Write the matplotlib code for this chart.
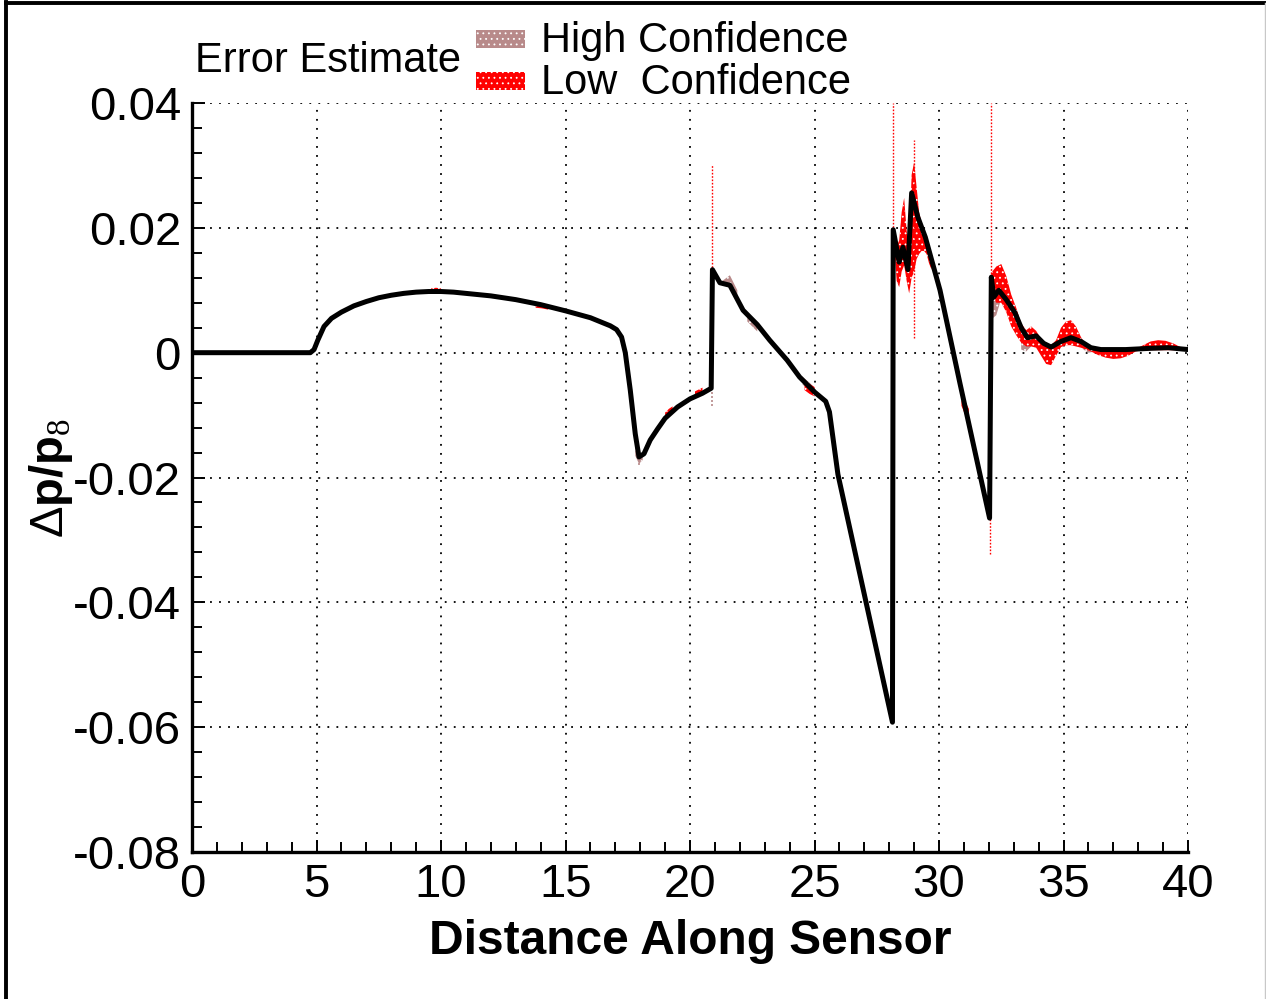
"""Pressure signature along the sensor with error-estimate bands."""
import numpy as np
import matplotlib
matplotlib.use("Agg")
import matplotlib.pyplot as plt
from matplotlib.lines import Line2D
from matplotlib.patches import Rectangle
from matplotlib.ticker import MultipleLocator, FuncFormatter

plt.rcParams["font.family"] = ["Liberation Sans", "DejaVu Sans"]
plt.rcParams["axes.unicode_minus"] = False
plt.rcParams["hatch.linewidth"] = 0.6
plt.rcParams["mathtext.fontset"] = "custom"
plt.rcParams["mathtext.rm"] = "Liberation Serif"
plt.rcParams["mathtext.sf"] = "Liberation Sans"
plt.rcParams["mathtext.bf"] = "Liberation Sans:bold"

# --- data: mean signature -------------------------------------------------
curve_x = [0.0, 4.75, 4.9, 5.05, 5.3, 5.6, 6.0, 6.5, 7.0, 7.5, 8.0, 8.5, 9.0,
           9.5, 10.0, 10.5, 11.0, 12.0, 13.0, 14.0, 15.0, 16.0, 16.8, 17.05,
           17.25, 17.4, 17.6, 17.8, 17.95, 18.15, 18.4, 18.7, 19.0, 19.5, 20.0,
           20.5, 20.85, 20.9, 21.2, 21.6, 22.13, 22.7, 23.2, 23.9, 24.4, 25.0,
           25.45, 25.6, 25.94, 27.07, 28.13, 28.16, 28.4, 28.55, 28.75, 28.9,
           29.15, 29.45, 30.04, 30.84, 32.03, 32.1, 32.2, 32.4, 32.7, 33.05,
           33.3, 33.55, 33.9, 34.2, 34.5, 34.9, 35.3, 35.7, 36.1, 36.5, 37.5,
           38.5, 39.2, 40.0]
curve_y = [0, 0, 0.0005, 0.002, 0.0042, 0.0055, 0.0065, 0.0075, 0.0082, 0.0088,
           0.0092, 0.0095, 0.0097, 0.0098, 0.0098, 0.0097, 0.0095, 0.0091,
           0.0085, 0.0077, 0.0067, 0.0056, 0.0043, 0.0037, 0.0025, 0.0, -0.006,
           -0.013, -0.0167, -0.0162, -0.014, -0.0122, -0.0105, -0.0087, -0.0074,
           -0.0065, -0.0057, 0.0133, 0.0112, 0.0108, 0.0068, 0.0045, 0.002,
           -0.0012, -0.0039, -0.0063, -0.0078, -0.0095, -0.0195, -0.040,
           -0.0592, 0.0197, 0.0145, 0.0169, 0.0133, 0.0256, 0.0217, 0.0185,
           0.0100, -0.0049, -0.0265, 0.0121, 0.0089, 0.0100, 0.0085, 0.0064,
           0.0040, 0.0024, 0.0027, 0.0015, 0.0009, 0.0018, 0.0024, 0.0018,
           0.0008, 0.0005, 0.0005, 0.0007, 0.0008, 0.0005]

# --- data: high-confidence error band (nan separates pieces) -------------
nan = np.nan
hc_x = [17.8, 17.95, 18.1, nan, 21.3, 21.6, 21.9, nan, 22.3, 22.5, 22.7, nan,
        24.5, 24.8, 25.0, nan, 32.15, 32.3, 32.45, nan, 33.3, 33.5, 33.7, nan,
        35.8, 36.0, 36.3]
hc_lo = [-0.0165, -0.0178, -0.0172, nan, 0.0108, 0.0106, 0.0085, nan,
         0.0050, 0.0042, 0.0034, nan, -0.0050, -0.0062, -0.0070, nan,
         0.0055, 0.0060, 0.0080, nan, 0.0005, 0.0002, 0.0010, nan,
         0.0005, 0.0000, 0.0002]
hc_hi = [-0.0150, -0.0165, -0.0160, nan, 0.0115, 0.0124, 0.0100, nan,
         0.0064, 0.0056, 0.0048, nan, -0.0038, -0.0048, -0.0056, nan,
         0.0110, 0.0100, 0.0100, nan, 0.0040, 0.0030, 0.0030, nan,
         0.0015, 0.0010, 0.0008]

# --- data: low-confidence error band -------------------------------------
lc_x = [9.6, 9.8, 10.0, nan, 13.8, 14.05, 14.3, nan, 19.0, 19.15, 19.3, nan,
        20.2, 20.35, 20.5, nan, 24.6, 24.8, 25.0, nan,
        28.17, 28.3, 28.4, 28.5, 28.6, 28.7, 28.8, 28.9, 29.0, 29.1, 29.2,
        29.3, 29.4, 29.5, 29.6, 29.7, nan, 30.9, 31.05, 31.2, nan,
        32.1, 32.3, 32.5, 32.7, 32.9, 33.1, 33.3, 33.5, 33.7, 33.9, 34.1,
        34.3, 34.5, 34.7, 34.9, 35.1, 35.3, 35.5, 35.7, 35.9, 36.1, 36.4,
        36.7, 37.0, 37.3, 37.6, 37.9, 38.2, 38.5, 38.8, 39.1, 39.4, 39.7, 40.0]
lc_lo = [0.0096, 0.0095, 0.0096, nan, 0.0072, 0.0071, 0.0069, nan,
         -0.0108, -0.0102, -0.0097, nan, -0.0072, -0.0068, -0.0065, nan,
         -0.0060, -0.0066, -0.0070, nan,
         0.0185, 0.0115, 0.0105, 0.0130, 0.0140, 0.0115, 0.0095, 0.0120,
         0.0130, 0.0150, 0.0158, 0.0163, 0.0163, 0.0158, 0.0143, 0.0133, nan,
         -0.0085, -0.0100, -0.0110, nan,
         0.0095, 0.0080, 0.0080, 0.0065, 0.0042, 0.0028, 0.0016, 0.0010,
         0.0010, 0.0008, -0.0005, -0.0018, -0.0020, -0.0005, 0.0009, 0.0012,
         0.0012, 0.0010, 0.0008, 0.0005, 0.0002, -0.0004, -0.0008, -0.0010,
         -0.0009, -0.0005, 0.0002, 0.0004, 0.0004, 0.0004, 0.0004, 0.0004,
         0.0004, 0.0004]
lc_hi = [0.0103, 0.0104, 0.0103, nan, 0.0080, 0.0079, 0.0077, nan,
         -0.0096, -0.0090, -0.0086, nan, -0.0062, -0.0059, -0.0056, nan,
         -0.0044, -0.0050, -0.0055, nan,
         0.0200, 0.0170, 0.0180, 0.0225, 0.0248, 0.0195, 0.0175, 0.0285,
         0.0305, 0.0265, 0.0225, 0.0208, 0.0198, 0.0182, 0.0162, 0.0147, nan,
         -0.0065, -0.0078, -0.0090, nan,
         0.0128, 0.0138, 0.0142, 0.0123, 0.0093, 0.0072, 0.0047, 0.0036,
         0.0042, 0.0035, 0.0022, 0.0015, 0.0012, 0.0020, 0.0040, 0.0050,
         0.0052, 0.0042, 0.0025, 0.0012, 0.0008, 0.0006, 0.0005, 0.0005,
         0.0005, 0.0005, 0.0006, 0.0012, 0.0018, 0.0020, 0.0019, 0.0015,
         0.0009, 0.0006]

# --- data: isolated error spikes at the shocks ---------------------------
lc_spike_x = [20.9, 28.16, 29.0, 32.1, 32.05]
lc_spike_lo = [0.0110, 0.0190, 0.0024, 0.0121, -0.0322]
lc_spike_hi = [0.0300, 0.0400, 0.0340, 0.0400, -0.0255]
hc_spike_x = [20.87, 17.95, 32.13]
hc_spike_lo = [-0.0085, -0.0180, 0.0048]
hc_spike_hi = [-0.0055, -0.0165, 0.0100]

HC_COLOR = "#b88a8a"
LC_COLOR = "#ff0000"


def main() -> None:
    fig = plt.figure(figsize=(12.66, 9.99), dpi=100)
    ax = fig.add_axes([0.1517, 0.1471, 0.7867, 0.7498])

    ax.fill_between(hc_x, hc_lo, hc_hi, facecolor=HC_COLOR, edgecolor="white",
                    hatch="...", linewidth=0, zorder=2)
    ax.fill_between(lc_x, lc_lo, lc_hi, facecolor=LC_COLOR, edgecolor="white",
                    hatch="...", linewidth=0, zorder=3)
    ax.vlines(hc_spike_x, hc_spike_lo, hc_spike_hi, colors=HC_COLOR,
              linestyles=(0, (1.2, 1.2)), linewidth=1.2, zorder=3)
    ax.vlines(lc_spike_x, lc_spike_lo, lc_spike_hi, colors=LC_COLOR,
              linestyles=(0, (1.2, 1.2)), linewidth=1.0, zorder=4)
    ax.plot(curve_x, curve_y, color="black", linewidth=3.6,
            solid_joinstyle="round", zorder=5)

    ax.set_xlim(0, 40)
    ax.set_ylim(-0.08, 0.04)
    ax.xaxis.set_major_locator(MultipleLocator(5))
    ax.xaxis.set_minor_locator(MultipleLocator(1))
    ax.yaxis.set_major_locator(MultipleLocator(0.02))
    ax.yaxis.set_minor_locator(MultipleLocator(0.004))
    ax.yaxis.set_major_formatter(
        FuncFormatter(lambda v, _: "0" if abs(v) < 1e-9 else f"{v:.2f}"))
    ax.xaxis.set_major_formatter(FuncFormatter(lambda v, _: f"{v:.0f}"))

    ax.tick_params(which="both", direction="in", top=False, right=False,
                   width=1.4, labelsize=34, color="black")
    ax.tick_params(which="major", length=9)
    ax.tick_params(which="minor", length=7)
    ax.tick_params(axis="x", which="major", pad=8)
    ax.tick_params(axis="y", which="major", pad=8)

    for side in ("top", "right"):
        ax.spines[side].set_visible(False)
    for side in ("left", "bottom"):
        ax.spines[side].set_linewidth(2.4)
        ax.spines[side].set_zorder(6)
    ax.grid(which="major", color="black", linestyle=(0, (1, 4)),
            linewidth=1.3, zorder=1)
    ax.set_axisbelow(True)

    fig.text(0.545, 0.058, "Distance Along Sensor", ha="center", va="center",
             fontsize=34.5, fontweight="bold")
    fig.text(0.040, 0.522, r"$\mathsf{\Delta}\mathbf{p/p}_{\mathrm{8}}$",
             rotation=90, ha="center", va="center", fontsize=34)

    # error-estimate key above the plot
    fig.text(0.154, 0.939, "Error Estimate", ha="left", va="center",
             fontsize=30)
    for y0, colour, label in ((0.952, HC_COLOR, "High Confidence"),
                              (0.910, LC_COLOR, "Low  Confidence")):
        fig.patches.append(Rectangle((0.376, y0), 0.0387, 0.018,
                                     transform=fig.transFigure,
                                     facecolor=colour, edgecolor="white",
                                     hatch="...", linewidth=0))
        fig.text(0.4273, y0 + 0.007, label, ha="left", va="center",
                 fontsize=30)

    # page border
    fig.add_artist(Line2D([0.0045, 0.0045], [0.0, 0.998], color="black",
                          linewidth=2.8, transform=fig.transFigure))
    fig.add_artist(Line2D([0.0045, 1.0], [0.997, 0.997], color="black",
                          linewidth=2.8, transform=fig.transFigure))
    fig.add_artist(Line2D([0.9995, 0.9995], [0.0, 0.997], color="#c8c8c8",
                          linewidth=1.0, transform=fig.transFigure))

    fig.savefig("out.png", dpi=100, facecolor="white")


if __name__ == "__main__":
    main()
